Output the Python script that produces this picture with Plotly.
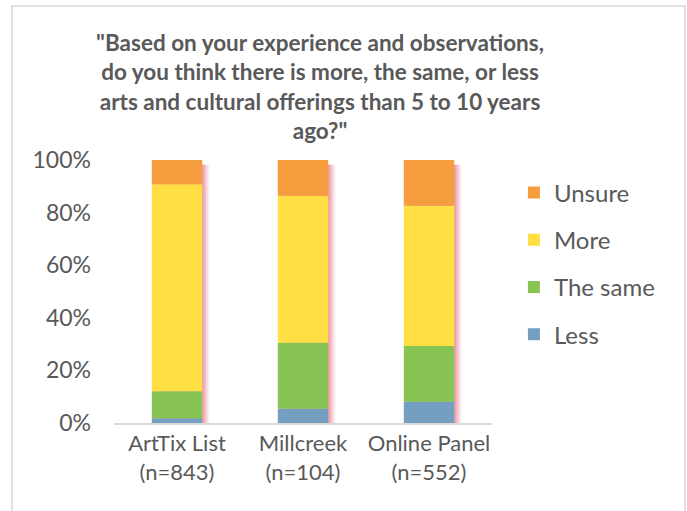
import plotly.graph_objects as go

# Survey groups shown on the x axis
groups = ["ArtTix List<br>(n=843)", "Millcreek<br>(n=104)", "Online Panel<br>(n=552)"]

# Share of respondents per answer (percent), bottom to top of each bar
less = [1.8, 5.4, 8.1]
same = [10.3, 25.1, 21.2]
more = [78.7, 55.9, 53.3]
unsure = [9.2, 13.6, 17.4]

# y-axis ticks
y_ticks = [0, 20, 40, 60, 80, 100]
y_tick_labels = [f"{t}%" for t in y_ticks]

series = [
    ("Less", less, "#749FC0"),
    ("The same", same, "#87C454"),
    ("More", more, "#FFDF43"),
    ("Unsure", unsure, "#F69D3F"),
]

FONT = "Lato"
GREY = "#595959"
BAR_W = 0.4

fig = go.Figure()

# soft reddish drop shadow behind every bar
totals = [sum(v) for v in zip(less, same, more, unsure)]
for dx, alpha in [(0.06, 0.10), (0.045, 0.18), (0.03, 0.26), (0.015, 0.32)]:
    fig.add_trace(go.Bar(
        x=groups, y=[t - 1.8 for t in totals], base=[0] * len(totals),
        width=BAR_W, offset=-BAR_W / 2 + dx,
        marker=dict(color=f"rgba(228,110,125,{alpha})", line=dict(width=0)),
        showlegend=False, hoverinfo="skip",
    ))

# stacked segments with explicit bases; legend lists the top segment first
base = [0.0] * len(groups)
for i, (name, vals, color) in enumerate(series):
    fig.add_trace(go.Bar(
        x=groups, y=vals, base=list(base), name=name,
        width=BAR_W, offset=-BAR_W / 2,
        marker=dict(color=color, line=dict(width=0)),
        legendgroup=name, legendrank=len(series) - i,
    ))
    base = [b + v for b, v in zip(base, vals)]

fig.update_layout(
    width=687, height=511,
    margin=dict(l=114, r=195, t=160, b=88),
    barmode="overlay",
    paper_bgcolor="white", plot_bgcolor="white",
    font=dict(family=FONT, size=23, color=GREY),
    title=dict(
        text='"Based on your experience and observations,<br>do you think there is more, the same, or less<br>'
             'arts and cultural offerings than 5 to 10 years<br>ago?"',
        font=dict(family=FONT, size=22.5, color=GREY, weight="bold"),
        x=0.545, xref="paper", xanchor="center",
        y=1 - 51 / 511, yref="container", yanchor="top",
    ),
    legend=dict(
        x=1.058, xanchor="left", y=0.96, yanchor="top",
        traceorder="grouped", tracegroupgap=13,
        font=dict(family=FONT, size=24, color=GREY),
        bgcolor="rgba(0,0,0,0)",
    ),
    xaxis=dict(
        showline=True, linecolor="#D9D9D9", linewidth=1.5,
        showgrid=False, ticks="", tickfont=dict(size=22, color=GREY),
    ),
    yaxis=dict(
        range=[0, 100], tickmode="array", tickvals=y_ticks, ticktext=y_tick_labels,
        showgrid=False, zeroline=False, showline=False, ticks="",
        ticklabelstandoff=22, tickfont=dict(size=23, color=GREY),
    ),
    shapes=[dict(
        type="rect", xref="paper", yref="paper",
        x0=(12 - 114) / 378, x1=(685 - 114) / 378,
        y0=(423 - 520) / 263, y1=(423 - 6) / 263,
        line=dict(color="#D9D9D9", width=1.5), layer="below",
    )],
)

fig.write_html("out.html")
